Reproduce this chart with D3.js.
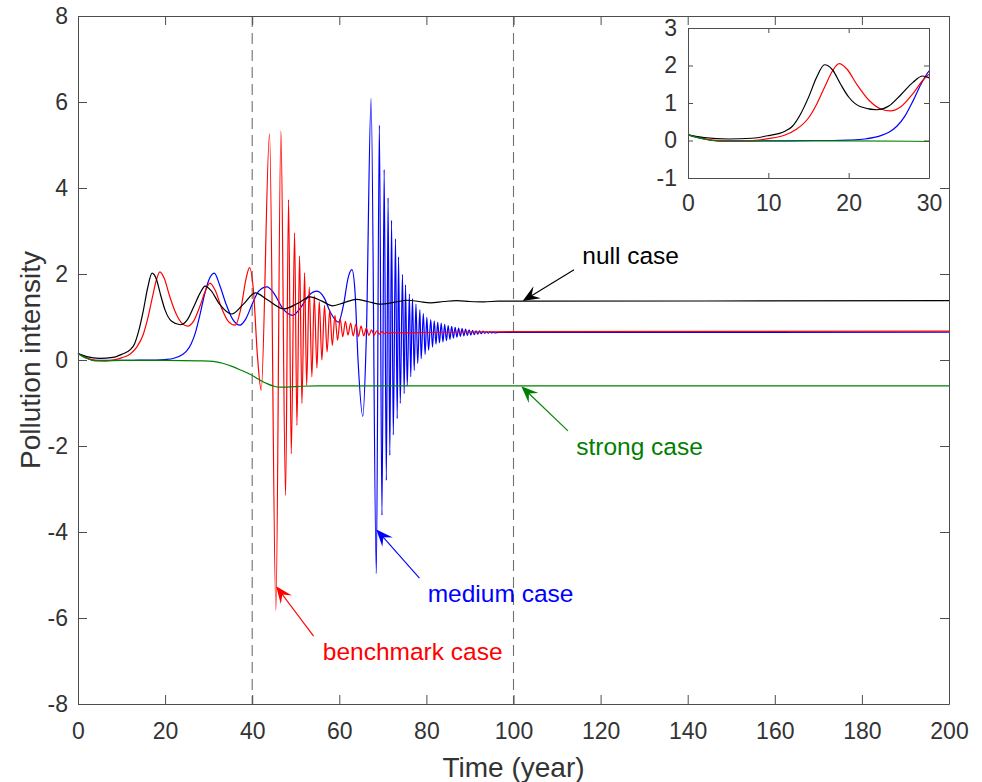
<!DOCTYPE html>
<html>
<head>
<meta charset="utf-8">
<script src="https://cdn.jsdelivr.net/npm/d3@7"></script>
<style>
  body { margin: 0; background: #fff; }
  text { font-family: "Liberation Sans", Arial, Helvetica, sans-serif; }
  .axis path, .axis line { stroke: #4d4d4d; stroke-width: 1; }
  .axis text { fill: #333; font-size: 23px; }
  .curve { fill: none; stroke-width: 1.2; }
</style>
</head>
<body>
<div id="plot"></div>
<script>
// [time (year), pollution intensity]
const nullCase = [[0,0.15],[2,0.08],[5,0.04],[8,0.06],[10,0.13],[12,0.24],[13,0.38],[14,0.7],[15,1.15],[16,1.68],[17,2.02],[18,1.88],[19,1.5],[20,1.16],[21.5,0.9],[23.5,0.82],[25,0.92],[26.5,1.22],[28,1.55],[29.2,1.72],[30.5,1.62],[32.5,1.3],[35.3,1.07],[38,1.3],[40.7,1.56],[43.5,1.4],[47.3,1.19],[50.5,1.32],[53.3,1.47],[56,1.37],[58.5,1.26],[61,1.33],[63.9,1.41],[66.5,1.36],[69.6,1.3],[72.5,1.34],[75.7,1.39],[78.3,1.36],[80.9,1.33],[84,1.36],[86.9,1.38],[90,1.36],[93.2,1.35],[96.5,1.37],[100,1.37],[200,1.38]]

const benchmarkCase = [[0,0.15],[2,0.05],[4,-0.01],[6,-0.02],[8,0],[10,0.05],[12,0.14],[13.5,0.3],[15,0.6],[16,0.96],[17,1.42],[18,1.86],[18.8,2.05],[19.8,1.9],[21,1.5],[22.5,1.08],[24,0.84],[25.2,0.79],[26.5,0.9],[28,1.25],[29.3,1.62],[30.3,1.79],[31.5,1.62],[33,1.2],[34.5,0.9],[36.1,0.81],[37.5,1.25],[38.6,1.9],[39.4,2.15],[40.3,1.6],[41.2,0.1],[42.07,-0.7],[43.98,5.26],[45.44,-5.82],[46.59,5.33],[47.66,-3.15],[48.35,3.73],[48.97,-2.18],[49.73,2.96],[50.27,-1.52],[50.88,2.42],[51.42,-1.01],[52.03,2.03],[52.5,-0.59],[53.1,1.7],[53.7,-0.39],[54.25,1.5],[54.86,-0.19],[55.4,1.36],[56,0],[56.6,1.27],[57.2,0.19],[57.8,1.16],[58.4,0.34],[59,1.04],[59.6,0.46],[60.2,0.96],[60.8,0.54],[61.4,0.9],[62,0.58],[62.6,0.86],[63.2,0.56],[63.8,0.83],[64.4,0.55],[65,0.79],[65.6,0.56],[66.2,0.74],[66.8,0.57],[67.4,0.7],[68,0.58],[68.6,0.68],[69.2,0.6],[69.8,0.66],[70.4,0.61],[71,0.65],[71.6,0.62],[72.2,0.64],[73,0.63],[80,0.64],[100,0.66],[200,0.67]]

const mediumCase = [[0,0.15],[2,0.04],[4,-0.01],[8,-0.01],[12,-0.01],[16,0],[18,0],[20,0.01],[22,0.04],[24,0.13],[25,0.22],[26,0.38],[27,0.65],[28,1.05],[29,1.5],[30,1.85],[31.3,2.02],[32.5,1.75],[34,1.3],[35.5,0.95],[37.2,0.81],[38.5,0.95],[40,1.3],[41.5,1.6],[43.4,1.7],[45,1.55],[47,1.2],[49.3,1.04],[51,1.2],[53,1.5],[54.9,1.6],[56.5,1.45],[58,1.1],[59.8,0.88],[61,1.3],[62,1.9],[62.9,2.1],[63.6,1.6],[64.3,0],[65.4,-1.31],[66.2,0.5],[67.3,6.08],[68.5,-4.97],[69.2,5.46],[69.8,-3.61],[70.3,4.43],[70.8,-2.8],[71.2,3.77],[71.6,-2.22],[72,3.25],[72.4,-1.74],[72.9,2.82],[73.3,-1.36],[73.6,2.4],[74,-1.01],[74.5,1.99],[74.9,-0.78],[75.2,1.75],[75.6,-0.6],[76.1,1.54],[76.4,-0.39],[76.8,1.43],[77.2,-0.24],[77.6,1.3],[78,-0.08],[78.5,1.17],[78.8,0.03],[79.3,1.08],[79.7,0.13],[80.1,0.99],[80.5,0.23],[81,0.94],[81.4,0.3],[81.8,0.91],[82.2,0.37],[82.6,0.88],[83,0.4],[83.4,0.86],[83.8,0.42],[84.2,0.83],[84.6,0.45],[85,0.8],[85.4,0.48],[85.8,0.78],[86.2,0.51],[86.6,0.76],[87,0.53],[87.4,0.74],[87.8,0.55],[88.2,0.73],[88.6,0.56],[89,0.72],[89.4,0.57],[89.8,0.7],[90.2,0.58],[90.6,0.69],[91,0.59],[91.4,0.68],[91.8,0.6],[92.2,0.68],[92.6,0.61],[93,0.67],[93.4,0.62],[93.8,0.66],[94.2,0.62],[94.6,0.66],[95,0.63],[95.4,0.65],[95.8,0.63],[96.5,0.64],[100,0.64],[200,0.65]]

const strongCase = [[0,0.15],[1,0.09],[2,0.04],[3,0],[4,-0.02],[6,-0.02],[10,-0.01],[20,-0.01],[28,-0.02],[31,-0.03],[33,-0.07],[35.7,-0.16],[37.5,-0.24],[39.5,-0.33],[41.5,-0.45],[43.4,-0.55],[45,-0.61],[46.4,-0.63],[48,-0.63],[51,-0.61],[55,-0.6],[200,-0.6]]

const xTicks = d3.range(0, 201, 20)
const yTicks = d3.range(-8, 9, 2)
const insetXTicks = [0, 10, 20, 30]
const insetYTicks = [-1, 0, 1, 2, 3]
const markerYears = [40, 100]

// draw order seen in the figure: blue under red under black, green on top
const series = [
  {name: 'medium', data: mediumCase, color: '#0000ff'},
  {name: 'benchmark', data: benchmarkCase, color: '#ff0000'},
  {name: 'null', data: nullCase, color: '#000000'},
  {name: 'strong', data: strongCase, color: '#008000'}
]

// annotations: text anchor, arrow tail, arrow tip (data units)
const notes = [
  {label: 'null case', color: '#000000', text: [115.8, 2.24], tail: [113.9, 2.1], tip: [102.1, 1.37]},
  {label: 'strong case', color: '#008000', text: [114.4, -2.22], tail: [112.5, -1.65], tip: [101.8, -0.61]},
  {label: 'medium case', color: '#0000ff', text: [80.3, -5.63], tail: [78.4, -5.07], tip: [68.5, -3.94]},
  {label: 'benchmark case', color: '#ff0000', text: [56.2, -6.98], tail: [54.1, -6.42], tip: [45.5, -5.26]}
]

const width = 982, height = 782
const margin = ({top: 16, right: 33, bottom: 78, left: 78})
const fmt = d => String(d)   // plain hyphen minus, as in the figure

const svg = d3.select('#plot').append('svg')
  .attr('width', width)
  .attr('height', height)

const xScale = d3.scaleLinear().domain([0, 200]).range([margin.left, width - margin.right])
const yScale = d3.scaleLinear().domain([-8, 8]).range([height - margin.bottom, margin.top])

//dashed markers
svg.append('g').selectAll('line')
  .data(markerYears)
  .join('line')
  .attr('x1', d => xScale(d)).attr('x2', d => xScale(d))
  .attr('y1', yScale(8)).attr('y2', yScale(-8))
  .attr('stroke', '#707070')
  .attr('stroke-width', 1.1)
  .attr('stroke-dasharray', '11,6')

const line = d3.line()
  .x(d => xScale(d[0]))
  .y(d => yScale(d[1]))
  .curve(d3.curveMonotoneX)

svg.append('g').selectAll('path')
  .data(series)
  .join('path')
  .classed('curve', true)
  .attr('stroke', d => d.color)
  .attr('d', d => line(d.data))

//axes (ticks inside, box all round)
const x0 = xScale(0), x1 = xScale(200), y0 = yScale(-8), y1 = yScale(8)
svg.append('g').classed('axis', true)
  .attr('transform', `translate(0,${y0})`)
  .call(d3.axisBottom(xScale).tickValues(xTicks).tickFormat(fmt).tickSizeInner(-9).tickSizeOuter(0).tickPadding(19))
svg.append('g').classed('axis', true)
  .attr('transform', `translate(0,${y1})`)
  .call(d3.axisTop(xScale).tickValues(xTicks).tickSizeInner(-9).tickSizeOuter(0).tickFormat(''))
svg.append('g').classed('axis', true)
  .attr('transform', `translate(${x0},0)`)
  .call(d3.axisLeft(yScale).tickValues(yTicks).tickFormat(fmt).tickSizeInner(-9).tickSizeOuter(0).tickPadding(10))
svg.append('g').classed('axis', true)
  .attr('transform', `translate(${x1},0)`)
  .call(d3.axisRight(yScale).tickValues(yTicks).tickSizeInner(-9).tickSizeOuter(0).tickFormat(''))

svg.append('text')
  .attr('x', (x0 + x1) / 2).attr('y', 777)
  .attr('text-anchor', 'middle')
  .attr('fill', '#333').attr('font-size', 28)
  .text('Time (year)')
svg.append('text')
  .attr('transform', `translate(40,${(y0 + y1) / 2}) rotate(-90)`)
  .attr('text-anchor', 'middle')
  .attr('fill', '#333').attr('font-size', 28)
  .text('Pollution intensity')

//annotations
const notesG = svg.append('g')
notes.forEach(n => {
  const [tx, ty] = [xScale(n.tail[0]), yScale(n.tail[1])]
  const [hx, hy] = [xScale(n.tip[0]), yScale(n.tip[1])]
  const a = Math.atan2(hy - ty, hx - tx)
  const L = 17, w = 7
  const pt = (along, side) => [hx - along * Math.cos(a) - side * Math.sin(a), hy - along * Math.sin(a) + side * Math.cos(a)]
  notesG.append('line')
    .attr('x1', tx).attr('y1', ty)
    .attr('x2', pt(8, 0)[0]).attr('y2', pt(8, 0)[1])
    .attr('stroke', n.color).attr('stroke-width', 1.1)
  notesG.append('path')
    .attr('d', 'M' + [[hx, hy], pt(L, w), pt(L * 0.62, 0), pt(L, -w)].map(p => p.join(',')).join('L') + 'Z')
    .attr('fill', n.color)
  notesG.append('text')
    .attr('x', xScale(n.text[0])).attr('y', yScale(n.text[1]))
    .attr('fill', n.color).attr('font-size', 24.5)
    .text(n.label)
})

//inset
const ix = d3.scaleLinear().domain([0, 30]).range([688, 929])
const iy = d3.scaleLinear().domain([-1, 3]).range([178, 28])
const inset = svg.append('g')
inset.append('rect')
  .attr('x', ix(0)).attr('y', iy(3))
  .attr('width', ix(30) - ix(0)).attr('height', iy(-1) - iy(3))
  .attr('fill', '#fff')
inset.append('clipPath').attr('id', 'insetClip')
  .append('rect')
  .attr('x', ix(0)).attr('y', iy(3))
  .attr('width', ix(30) - ix(0)).attr('height', iy(-1) - iy(3))
const iline = d3.line()
  .x(d => ix(d[0]))
  .y(d => iy(d[1]))
  .curve(d3.curveMonotoneX)
inset.append('g').attr('clip-path', 'url(#insetClip)')
  .selectAll('path')
  .data(series)
  .join('path')
  .classed('curve', true)
  .attr('stroke-width', 1.1)
  .attr('stroke', d => d.color)
  .attr('d', d => iline(d.data.filter(p => p[0] <= 32)))
inset.append('g').classed('axis', true)
  .attr('transform', `translate(0,${iy(-1)})`)
  .call(d3.axisBottom(ix).tickValues(insetXTicks).tickFormat(fmt).tickSizeInner(-5).tickSizeOuter(0).tickPadding(17))
inset.append('g').classed('axis', true)
  .attr('transform', `translate(0,${iy(3)})`)
  .call(d3.axisTop(ix).tickValues(insetXTicks).tickSizeInner(-5).tickSizeOuter(0).tickFormat(''))
inset.append('g').classed('axis', true)
  .attr('transform', `translate(${ix(0)},0)`)
  .call(d3.axisLeft(iy).tickValues(insetYTicks).tickFormat(fmt).tickSizeInner(-5).tickSizeOuter(0).tickPadding(11))
inset.append('g').classed('axis', true)
  .attr('transform', `translate(${ix(30)},0)`)
  .call(d3.axisRight(iy).tickValues(insetYTicks).tickSizeInner(-5).tickSizeOuter(0).tickFormat(''))
</script>
</body>
</html>
